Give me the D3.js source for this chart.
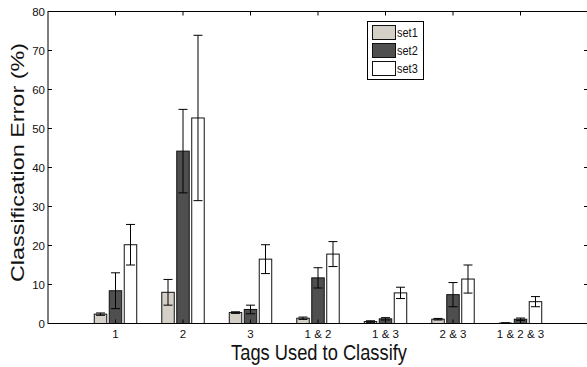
<!DOCTYPE html>
<html>
  <head>
    <meta charset="utf-8">
    <style>
      body { margin: 0; background: #fff; }
      svg { display: block; font-family: "Liberation Sans", Arial, sans-serif; }
    </style>
    <script src="https://cdn.jsdelivr.net/npm/d3@7"></script>
  </head>
  <body>
    <div id="chart"></div>
    <script>
      // data
      const categories = ["1", "2", "3", "1 & 2", "1 & 3", "2 & 3", "1 & 2 & 3"];
      const seriesNames = ["set1", "set2", "set3"];
      const set1 = [2.4, 8.0, 2.8, 1.35, 0.5, 1.1, 0.1];
      const set2 = [8.4, 44.2, 3.6, 11.7, 1.2, 7.4, 1.1];
      const set3 = [20.2, 52.7, 16.5, 17.8, 7.85, 11.4, 5.6];
      const err1 = [0.3, 3.3, 0.2, 0.3, 0.2, 0.2, 0.1];
      const err2 = [4.6, 10.7, 1.1, 2.6, 0.3, 3.1, 0.3];
      const err3 = [5.2, 21.2, 3.7, 3.2, 1.45, 3.6, 1.3];
      const yTicks = [0, 10, 20, 30, 40, 50, 60, 70, 80];

      const colors = ["#d4d0c8", "#4f4f4f", "#ffffff"];
      const values = [set1, set2, set3];
      const errors = [err1, err2, err3];

      const width = 587, height = 367;
      const svg = d3.select("#chart").append("svg")
        .attr("width", width).attr("height", height);

      const x = d3.scaleLinear().domain([0, categories.length + 1]).range([48, 588]);
      const y = d3.scaleLinear().domain([0, 80]).range([323.5, 11.5]);

      const offsets = [-0.222, 0, 0.222];
      const barW = 0.185;

      // bars
      values.forEach((vals, s) => {
        svg.append("g").selectAll("rect").data(vals).join("rect")
          .attr("x", (d, i) => x(i + 1 + offsets[s] - barW / 2))
          .attr("y", d => y(d))
          .attr("width", x(barW) - x(0))
          .attr("height", d => y(0) - y(d))
          .attr("fill", colors[s])
          .attr("stroke", "#111")
          .attr("stroke-width", 1);
      });

      // error bars
      values.forEach((vals, s) => {
        const g = svg.append("g").attr("stroke", "#000").attr("stroke-width", 1);
        vals.forEach((v, i) => {
          const cx = x(i + 1 + offsets[s]);
          const e = errors[s][i];
          g.append("line").attr("x1", cx).attr("x2", cx).attr("y1", y(v - e)).attr("y2", y(v + e));
          [v - e, v + e].forEach(t => {
            g.append("line").attr("x1", cx - 4.5).attr("x2", cx + 4.5).attr("y1", y(t)).attr("y2", y(t));
          });
        });
      });

      // box
      const [x0, x1] = x.range();
      const [yb, yt] = y.range();
      svg.append("rect")
        .attr("x", x0).attr("y", yt).attr("width", x1 - x0).attr("height", yb - yt)
        .attr("fill", "none").attr("stroke", "#000").attr("stroke-width", 1);

      // y axis ticks and labels
      const ya = svg.append("g").attr("font-size", 11.5);
      yTicks.forEach(t => {
        ya.append("line").attr("x1", x0).attr("x2", x0 + 4).attr("y1", y(t)).attr("y2", y(t)).attr("stroke", "#000");
        ya.append("line").attr("x1", x1 - 4).attr("x2", x1).attr("y1", y(t)).attr("y2", y(t)).attr("stroke", "#000");
        ya.append("text").attr("x", x0 - 3).attr("y", y(t) + 4)
          .attr("text-anchor", "end").attr("fill", "#111").text(t);
      });

      // x axis ticks and labels
      const xa = svg.append("g").attr("font-size", 11.5);
      categories.forEach((c, i) => {
        const cx = x(i + 1);
        xa.append("line").attr("x1", cx).attr("x2", cx).attr("y1", yt).attr("y2", yt + 4).attr("stroke", "#000");
        xa.append("line").attr("x1", cx).attr("x2", cx).attr("y1", yb).attr("y2", yb - 4).attr("stroke", "#000");
        xa.append("text")
          .attr("x", cx).attr("y", 338)
          .attr("text-anchor", "middle").attr("fill", "#111").text(c);
      });

      // axis titles (the original is stretched vertically)
      svg.append("text")
        .attr("transform", "translate(319,360) scale(1,1.25)")
        .attr("text-anchor", "middle").attr("font-size", 18.3).attr("fill", "#111")
        .text("Tags Used to Classify");
      svg.append("text")
        .attr("transform", "translate(24,162.5) rotate(-90) scale(1.3,1)")
        .attr("text-anchor", "middle").attr("font-size", 18).attr("fill", "#111")
        .text("Classification Error (%)");

      // legend
      const lg = svg.append("g");
      lg.append("rect").attr("x", 367.5).attr("y", 21.5).attr("width", 56).attr("height", 58)
        .attr("fill", "#fff").attr("stroke", "#000").attr("stroke-width", 1);
      seriesNames.forEach((n, s) => {
        const sy = 25.5 + s * 18;
        lg.append("rect").attr("x", 372.5).attr("y", sy).attr("width", 23).attr("height", 14)
          .attr("fill", colors[s]).attr("stroke", "#111");
        lg.append("text")
          .attr("transform", `translate(397,${sy + 11.5}) scale(1,1.15)`)
          .attr("font-size", 11).attr("fill", "#111").text(n);
      });
    </script>
  </body>
</html>
